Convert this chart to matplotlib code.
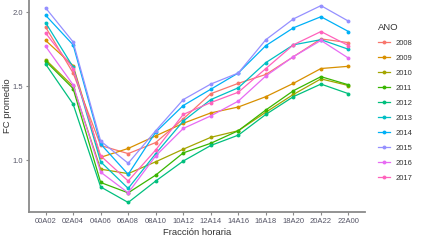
import matplotlib
matplotlib.use('Agg')
import matplotlib.pyplot as plt
from matplotlib.lines import Line2D

plt.rcParams['font.family'] = ['Liberation Sans', 'DejaVu Sans']

franjas = ['00A02', '02A04', '04A06', '06A08', '08A10', '10A12',
           '12A14', '14A16', '16A18', '18A20', '20A22', '22A00']
anos = ['2008', '2009', '2010', '2011', '2012', '2013', '2014', '2015', '2016', '2017']
colores = ['#F8766D', '#D89000', '#A3A500', '#39B600', '#00BF7D',
           '#00BFC4', '#00B0F6', '#9590FF', '#E76BF3', '#FF62BC']

fc_2008 = [1.90, 1.59, 1.10, 1.045, 1.12, 1.28, 1.45, 1.52, 1.58, 1.70, 1.82, 1.795]
fc_2009 = [1.81, 1.64, 1.02, 1.08, 1.165, 1.25, 1.32, 1.36, 1.43, 1.52, 1.62, 1.635]
fc_2010 = [1.68, 1.50, 0.94, 0.91, 0.99, 1.075, 1.155, 1.20, 1.325, 1.445, 1.55, 1.505]
fc_2011 = [1.67, 1.485, 0.85, 0.78, 0.90, 1.05, 1.115, 1.20, 1.34, 1.47, 1.565, 1.51]
fc_2012 = [1.65, 1.38, 0.82, 0.715, 0.86, 0.995, 1.10, 1.17, 1.31, 1.43, 1.515, 1.45]
fc_2013 = [1.93, 1.63, 0.99, 0.81, 1.045, 1.265, 1.41, 1.49, 1.66, 1.78, 1.815, 1.75]
fc_2014 = [1.98, 1.78, 1.11, 0.905, 1.19, 1.37, 1.48, 1.59, 1.775, 1.895, 1.97, 1.87]
fc_2015 = [2.03, 1.80, 1.13, 0.98, 1.20, 1.41, 1.515, 1.59, 1.815, 1.955, 2.045, 1.94]
fc_2016 = [1.77, 1.51, 0.92, 0.78, 1.03, 1.215, 1.30, 1.40, 1.57, 1.70, 1.81, 1.69]
fc_2017 = [1.86, 1.62, 1.03, 0.86, 1.07, 1.31, 1.39, 1.46, 1.62, 1.78, 1.87, 1.775]
series = [fc_2008, fc_2009, fc_2010, fc_2011, fc_2012,
          fc_2013, fc_2014, fc_2015, fc_2016, fc_2017]

fig = plt.figure(figsize=(4.21, 2.42), dpi=100)
ax = fig.add_axes([0.069, 0.123, 0.798, 0.877])

x = list(range(len(franjas)))
for vals, col in zip(series, colores):
    ax.plot(x, vals, color=col, lw=0.9, marker='o', ms=2.8, mew=0)

ax.set_xlim(-0.6, len(franjas) - 0.4)
ax.set_ylim(0.649, 2.083)
ax.set_xticks(x)
ax.set_xticklabels(franjas)
ax.set_yticks([1.0, 1.5, 2.0])
ax.set_yticklabels(['1.0', '1.5', '2.0'])

for s in ['top', 'right']:
    ax.spines[s].set_visible(False)
for s in ['left', 'bottom']:
    ax.spines[s].set_color('#8a8a8a')
    ax.spines[s].set_linewidth(1.3)
ax.tick_params(axis='both', colors='#8a8a8a', length=2.5, width=0.8,
               labelsize=5.5, labelcolor='#555566', pad=2)

ax.set_xlabel('Fracción horaria', fontsize=6.8, color='#333333', labelpad=2)
ax.set_ylabel('FC promedio', fontsize=6.8, color='#333333', labelpad=0)

handles = [Line2D([0], [0], color=c, lw=0.9, marker='o', ms=2.8, mew=0) for c in colores]
leg = fig.legend(handles, anos, loc='upper left', bbox_to_anchor=(0.898, 0.903),
                 frameon=False, title='ANO', fontsize=5.5, title_fontsize=6.8,
                 handlelength=1.5, handletextpad=0.8, labelspacing=1.0,
                 borderaxespad=0, borderpad=0)
leg._legend_box.align = 'left'
leg._legend_box.sep = 5
leg.get_title().set_color('#333333')
for t in leg.get_texts():
    t.set_color('#333333')

fig.savefig('out.png', dpi=100)
